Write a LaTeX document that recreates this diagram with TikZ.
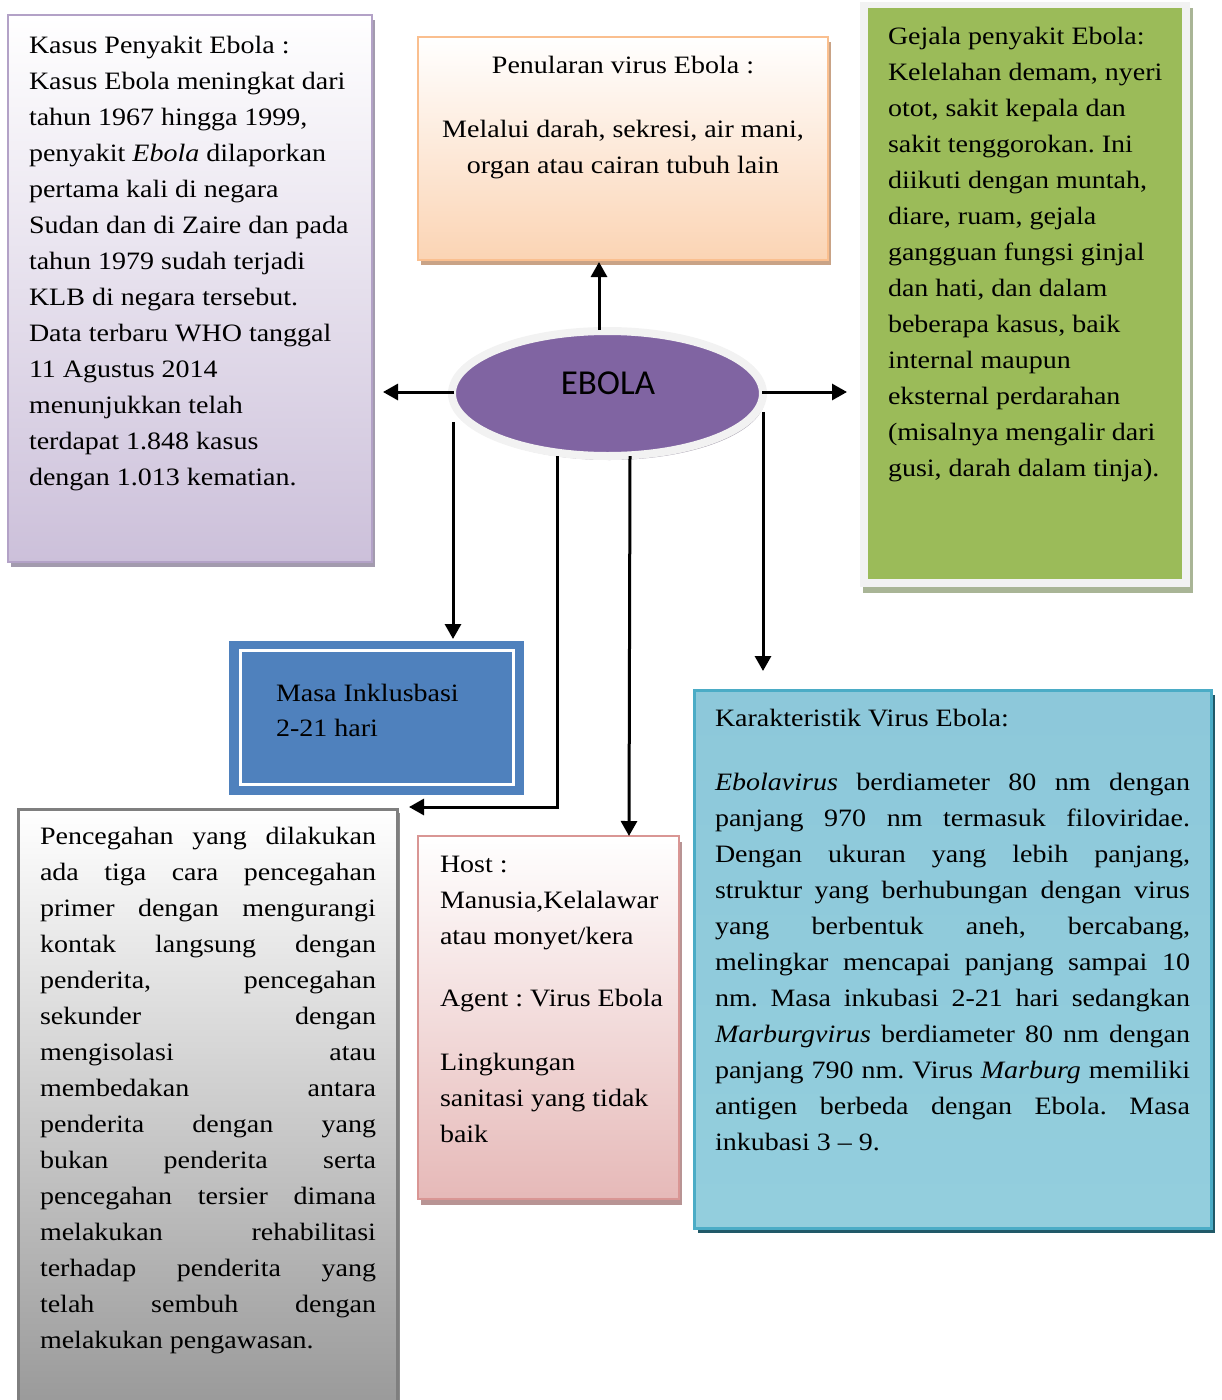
\documentclass[tikz,border=0pt]{standalone}
\usepackage{fontspec}
\setmainfont{Liberation Serif}[FakeStretch=1.12]
\newfontfamily\ebolafont{Carlito}
\usetikzlibrary{arrows.meta,shapes.geometric,shadows}
\definecolor{kasusBorder}{HTML}{B3A2C7}
\definecolor{kasusFill}{HTML}{CCC0DA}
\definecolor{kasusShadow}{HTML}{A39BAE}
\definecolor{penBorder}{HTML}{FABF8F}
\definecolor{penFill}{HTML}{FBD4B4}
\definecolor{penShadow}{HTML}{C9A386}
\definecolor{gejFrame}{HTML}{F2F2F2}
\definecolor{gejFill}{HTML}{9BBB59}
\definecolor{gejShadow}{HTML}{A9B596}
\definecolor{masaFill}{HTML}{4F81BD}
\definecolor{pcgBorder}{HTML}{7F7F7F}
\definecolor{pcgFill}{HTML}{999999}
\definecolor{pcgShadow}{HTML}{8C8C8C}
\definecolor{hostBorder}{HTML}{D99694}
\definecolor{hostFill}{HTML}{E6B9B8}
\definecolor{hostShadow}{HTML}{B89494}
\definecolor{karBorder}{HTML}{4BACC6}
\definecolor{karTop}{HTML}{8DC8DA}
\definecolor{karBot}{HTML}{93CEDD}
\definecolor{karShadow}{HTML}{215968}
\definecolor{ebFill}{HTML}{8064A2}
\definecolor{ebRing}{HTML}{F2F2F2}
\definecolor{ebShadow}{HTML}{ABA5B3}
\newcommand{\jl}[2]{\noindent\hbox to #1{\spaceskip=\fontdimen2\font plus 1fill\relax #2}}
\newcommand{\ts}{\spaceskip=\fontdimen2\font\relax\xspaceskip=\fontdimen2\font\relax\frenchspacing}
\tikzset{
  boxnode/.style={rectangle, draw, outer sep=0pt, inner sep=0pt, anchor=north west},
  txt/.style={anchor=north west, inner sep=0pt, outer sep=0pt, align=left,
    font=\fontsize{25}{36}\selectfont},
  arr/.style={line width=3pt, -{Triangle[width=16pt,length=15pt]}}
}
\begin{document}
\begin{tikzpicture}[x=1pt,y=-1pt]
\useasboundingbox (0,0) rectangle (1221,1400);
% Kasus box
\node[boxnode, line width=2pt, draw=kasusBorder, top color=white, bottom color=kasusFill,
  minimum width=364pt, minimum height=547pt,
  drop shadow={shadow xshift=3pt, shadow yshift=-5pt, fill=kasusShadow, opacity=1}]
  (kasus) at (8,15) {};
% Penularan box
\node[boxnode, line width=2pt, draw=penBorder, top color=white, bottom color=penFill,
  minimum width=410pt, minimum height=223pt,
  drop shadow={shadow xshift=3pt, shadow yshift=-5pt, fill=penShadow, opacity=1}]
  (penularan) at (418,37) {};
% Gejala frame and box
\node[boxnode, draw=none, fill=gejFrame, minimum width=330pt, minimum height=585pt,
  drop shadow={shadow xshift=3pt, shadow yshift=-6pt, fill=gejShadow, opacity=1}]
  (gejframe) at (860,2) {};
\node[boxnode, draw=none, fill=gejFill, minimum width=314pt, minimum height=571pt]
  (gejala) at (868,8) {};
% Masa box
\node[boxnode, draw=none, fill=masaFill, minimum width=295pt, minimum height=154pt]
  (masa) at (229,641) {};
\draw[white, line width=3pt] (240.5,650.5) rectangle (513.5,784);
% Pencegahan box
\node[boxnode, line width=3pt, draw=pcgBorder, top color=white, bottom color=pcgFill,
  minimum width=379pt, minimum height=600pt,
  drop shadow={shadow xshift=3pt, shadow yshift=-4pt, fill=pcgShadow, opacity=1}]
  (pencegahan) at (18,809) {};
% Host box
\node[boxnode, line width=2pt, draw=hostBorder, top color=white, bottom color=hostFill,
  minimum width=261pt, minimum height=363pt,
  drop shadow={shadow xshift=3pt, shadow yshift=-6pt, fill=hostShadow, opacity=1}]
  (host) at (418,836) {};
% Karakteristik box
\node[boxnode, line width=3pt, draw=karBorder, top color=karTop, bottom color=karBot,
  minimum width=517pt, minimum height=538pt,
  drop shadow={shadow xshift=4pt, shadow yshift=-5pt, fill=karShadow, opacity=1}]
  (karakter) at (694,690) {};
% Ellipse
\node[ellipse, line width=8pt, draw=ebRing, fill=ebFill, minimum width=311pt,
  minimum height=125pt, inner sep=0pt,
  drop shadow={shadow xshift=2pt, shadow yshift=-4pt, fill=ebShadow, opacity=1}]
  (ebola) at (607.5,393.5) {};
\node[font=\ebolafont\fontsize{35}{42}\selectfont, inner sep=0pt] (ebolalabel) at (608,383) {EBOLA};

% connector coordinates
\coordinate (upS) at (599,330);   \coordinate (upE) at (599,262);
\coordinate (lfS) at (454,392);   \coordinate (lfE) at (383,392);
\coordinate (rtS) at (762,392);   \coordinate (rtE) at (847,392);
\coordinate (dlS) at (453,422);   \coordinate (dlE) at (453,639);
\coordinate (pcS) at (557,456);   \coordinate (pcM) at (557,807);  \coordinate (pcE) at (409,807);
\coordinate (hoS) at (630,456);   \coordinate (hoE) at (629,836);
\coordinate (kaS) at (763,412);   \coordinate (kaE) at (763,671);
\draw[arr] (upS) -- (upE);
\draw[arr] (lfS) -- (lfE);
\draw[arr] (rtS) -- (rtE);
\draw[arr] (dlS) -- (dlE);
\draw[arr] (pcS) -- (pcM) -- (pcE);
\draw[arr] (hoS) -- (hoE);
\draw[arr] (kaS) -- (kaE);

% Texts
\node[txt, text width=360pt] (kasustext) at (29,27.8) {\ts\strut Kasus Penyakit Ebola :\\
Kasus Ebola meningkat dari\\
tahun 1967 hingga 1999,\\
penyakit \textit{Ebola} dilaporkan\\
pertama kali di negara\\
Sudan dan di Zaire dan pada\\
tahun 1979 sudah terjadi\\
KLB di negara tersebut.\\
Data terbaru WHO tanggal\\
11 Agustus 2014\\
menunjukkan telah\\
terdapat 1.848 kasus\\
dengan 1.013 kematian.};

\node[txt, text width=410pt, align=center] (pentext) at (418,47.8) {\ts\strut Penularan virus Ebola :\\[28pt]
Melalui darah, sekresi, air mani,\\
organ atau cairan tubuh lain};

\node[txt, text width=320pt] (gejtext) at (888,18.8) {\ts\strut Gejala penyakit Ebola:\\
Kelelahan demam, nyeri\\
otot, sakit kepala dan\\
sakit tenggorokan. Ini\\
diikuti dengan muntah,\\
diare, ruam, gejala\\
gangguan fungsi ginjal\\
dan hati, dan dalam\\
beberapa kasus, baik\\
internal maupun\\
eksternal perdarahan\\
(misalnya mengalir dari\\
gusi, darah dalam tinja).};

\node[txt, text width=230pt, font=\fontsize{25}{35}\selectfont] (masatext) at (276,676.8) {\ts\strut Masa Inklusbasi\\
2-21 hari};

\node[txt, text width=350pt] (pcgtext) at (40,818.8) {\ts\strut\jl{336pt}{Pencegahan yang dilakukan}\\
\jl{336pt}{ada tiga cara pencegahan}\\
\jl{336pt}{primer dengan mengurangi}\\
\jl{336pt}{kontak langsung dengan}\\
\jl{336pt}{penderita, pencegahan}\\
\jl{336pt}{sekunder dengan}\\
\jl{336pt}{mengisolasi atau}\\
\jl{336pt}{membedakan antara}\\
\jl{336pt}{penderita dengan yang}\\
\jl{336pt}{bukan penderita serta}\\
\jl{336pt}{pencegahan tersier dimana}\\
\jl{336pt}{melakukan rehabilitasi}\\
\jl{336pt}{terhadap penderita yang}\\
\jl{336pt}{telah sembuh dengan}\\
melakukan pengawasan.};

\node[txt, text width=236pt] (hosttext) at (440,846.8) {\ts\strut Host :\\
Manusia,Kelalawar\\
atau monyet/kera\\[26pt]
Agent : Virus Ebola\\[28pt]
Lingkungan\\
sanitasi yang tidak\\
baik};

\node[txt, text width=490pt] (kartext) at (715,700.8) {\ts\strut Karakteristik Virus Ebola:\\[28pt]
\jl{475pt}{\textit{Ebolavirus} berdiameter 80 nm dengan}\\
\jl{475pt}{panjang 970 nm termasuk filoviridae.}\\
\jl{475pt}{Dengan ukuran yang lebih panjang,}\\
\jl{475pt}{struktur yang berhubungan dengan virus}\\
\jl{475pt}{yang berbentuk aneh, bercabang,}\\
\jl{475pt}{melingkar mencapai panjang sampai 10}\\
\jl{475pt}{nm. Masa inkubasi 2-21 hari sedangkan}\\
\jl{475pt}{\textit{Marburgvirus} berdiameter 80 nm dengan}\\
\jl{475pt}{panjang 790 nm. Virus \textit{Marburg} memiliki}\\
\jl{475pt}{antigen berbeda dengan Ebola. Masa}\\
inkubasi 3 – 9.};
\end{tikzpicture}
\end{document}
